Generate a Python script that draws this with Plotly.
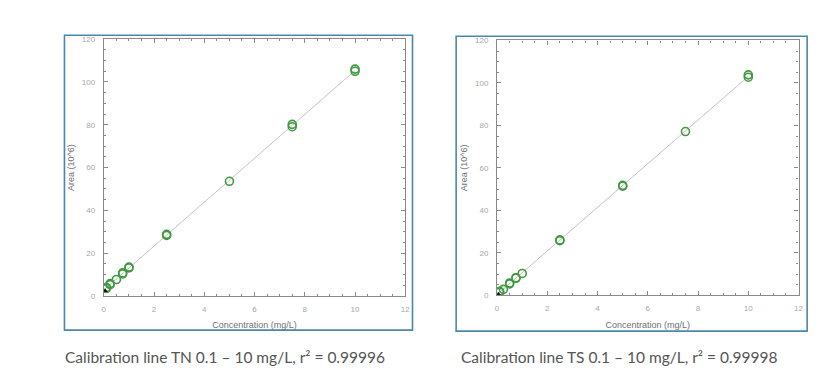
import numpy as np
import plotly.graph_objects as go

# TN calibration data (concentration mg/L, area 10^6)
tn_conc = [0.05, 0.1, 0.1, 0.25, 0.25, 0.5, 0.75, 0.75, 1.0, 1.0, 2.5, 2.5, 5.0, 7.5, 7.5, 10.0, 10.0]
tn_area = [2.4, 3.5, 4.0, 5.3, 5.8, 7.7, 10.3, 10.8, 13.1, 13.5, 28.3, 28.8, 53.6, 79.1, 80.2, 105.0, 106.0]
# TS calibration data
ts_conc = [0.05, 0.1, 0.1, 0.25, 0.5, 0.5, 0.75, 0.75, 1.0, 2.5, 2.5, 5.0, 5.0, 7.5, 10.0, 10.0]
ts_area = [0.5, 1.5, 1.9, 2.8, 5.4, 5.8, 8.0, 8.3, 10.3, 25.7, 26.1, 51.4, 51.8, 77.1, 102.7, 103.8]

captions = ["Calibration line TN 0.1 – 10 mg/L, r² = 0.99996",
            "Calibration line TS 0.1 – 10 mg/L, r² = 0.99998"]

W, H = 830, 384
def px(x):
    return x / W
def py(y):
    return (H - y) / H

fig = go.Figure()

panels = [
    dict(conc=tn_conc, area=tn_area, xd=[px(102.7), px(406.7)], yd=[py(299), py(36)],
         box=(63, 32, 414, 334), cap_x=62, ax=""),
    dict(conc=ts_conc, area=ts_area, xd=[px(499.3), px(803.3)], yd=[py(298.3), py(37.3)],
         box=(458, 33, 812, 335), cap_x=461, ax="2"),
]

green = "#3f9a3f"
for i, p in enumerate(panels):
    c = np.array(p["conc"][1:])
    a = np.array(p["area"][1:])
    slope, icpt = np.polyfit(c, a, 1)
    xs = np.array([0.0, 10.0])
    xa = "x" + p["ax"]
    ya = "y" + p["ax"]
    fig.add_trace(go.Scatter(x=xs, y=slope * xs + icpt, mode="lines",
                             line=dict(color="#c4c4c4", width=1), xaxis=xa, yaxis=ya,
                             showlegend=False, hoverinfo="skip"))
    fig.add_trace(go.Scatter(x=p["conc"][1:], y=p["area"][1:], mode="markers",
                             marker=dict(symbol="circle-open", size=8, color=green,
                                         line=dict(width=1.6, color=green)),
                             xaxis=xa, yaxis=ya, showlegend=False))
    fig.add_trace(go.Scatter(x=p["conc"][:1], y=p["area"][:1], mode="markers",
                             marker=dict(symbol="triangle-up", size=5, color="#111"),
                             xaxis=xa, yaxis=ya, showlegend=False))
    axcommon = dict(showline=True, linecolor="#8a8a8a", linewidth=1.2, mirror="ticks",
                    ticks="inside", ticklen=4, tickcolor="#8a8a8a", showgrid=False,
                    zeroline=False, tickfont=dict(family="Liberation Sans", size=8, color="#a8a8a8"))
    xkey = "xaxis" + p["ax"]
    ykey = "yaxis" + p["ax"]
    fig.update_layout(**{
        xkey: dict(axcommon, domain=p["xd"], range=[0, 12], dtick=2, anchor=ya,
                   ticklabelstandoff=5,
                   minor=dict(dtick=0.5, ticks="inside", ticklen=2, tickcolor="#8a8a8a"),
                   title=dict(text="Concentration (mg/L)", standoff=9,
                              font=dict(family="Liberation Sans", size=9, color="#707070"))),
        ykey: dict(axcommon, domain=p["yd"], range=[0, 120], dtick=20, anchor=xa,
                   ticklabelstandoff=6,
                   minor=dict(dtick=5, ticks="inside", ticklen=2, tickcolor="#8a8a8a"),
                   title=dict(text="Area (10^6)", standoff=5,
                              font=dict(family="Liberation Sans", size=9, color="#707070"))),
    })
    x0, y0, x1, y1 = p["box"]
    fig.add_shape(type="rect", xref="paper", yref="paper", x0=px(x0), x1=px(x1),
                  y0=py(y1), y1=py(y0), line=dict(color="#4a87ad", width=1.6))
    fig.add_annotation(xref="paper", yref="paper", x=px(p["cap_x"]), y=py(361),
                       xanchor="left", yanchor="middle", showarrow=False,
                       text=captions[i],
                       font=dict(family="Lato", size=15.5, color="#555555"))

fig.update_layout(width=W, height=H, margin=dict(l=0, r=0, t=0, b=0),
                  paper_bgcolor="white", plot_bgcolor="white")
fig.write_html("out.html", config={"displayModeBar": False},
               post_script="document.body.style.margin='0';document.body.style.padding='0';")
